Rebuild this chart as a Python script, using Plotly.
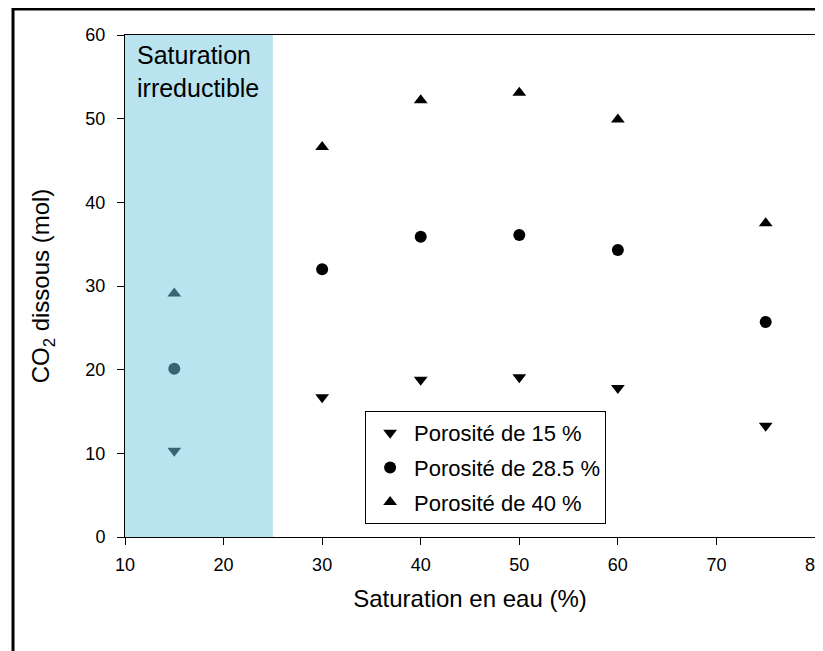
import plotly.graph_objects as go

saturation = [15, 30, 40, 50, 60, 75]
poro_15 = [10.3, 16.7, 18.8, 19.1, 17.8, 13.3]
poro_285 = [20.1, 32.0, 35.9, 36.1, 34.3, 25.7]
poro_40 = [29.1, 46.6, 52.2, 53.1, 49.9, 37.5]
names = ["Porosité de 15 %", "Porosité de 28.5 %", "Porosité de 40 %"]
x_ticks = [10, 20, 30, 40, 50, 60, 70, 80]
y_ticks = [0, 10, 20, 30, 40, 50, 60]
shade_range = [10, 25]

shade_col = "#b9e3ef"
in_shade_col = "#3a6474"

fig = go.Figure()
symbols = ["triangle-down", "circle", "triangle-up"]
for vals, nm, sym in zip([poro_15, poro_285, poro_40], names, symbols):
    inside = [shade_range[0] <= x <= shade_range[1] for x in saturation]
    xin = [x for x, f in zip(saturation, inside) if f]
    yin = [v for v, f in zip(vals, inside) if f]
    xout = [x for x, f in zip(saturation, inside) if not f]
    yout = [v for v, f in zip(vals, inside) if not f]
    fig.add_trace(go.Scatter(x=xout, y=yout, mode="markers", name=nm, legendgroup=nm,
                             marker=dict(symbol=sym, size=12, color="black", line=dict(width=0))))
    fig.add_trace(go.Scatter(x=xin, y=yin, mode="markers", name=nm, legendgroup=nm, showlegend=False,
                             marker=dict(symbol=sym, size=12, color=in_shade_col, line=dict(width=0))))

fig.add_shape(type="rect", xref="x", yref="y", x0=shade_range[0], x1=shade_range[1],
              y0=0, y1=60, fillcolor=shade_col, line=dict(width=0), layer="below")

# outer frame
fig.add_shape(type="rect", xref="paper", yref="paper", x0=-0.1623, x1=1.03, y0=-0.3, y1=1.0518,
              line=dict(color="black", width=3), fillcolor="rgba(0,0,0,0)")

fig.add_annotation(x=shade_range[0], y=60, xref="x", yref="y", xanchor="left", yanchor="top",
                   xshift=10, yshift=-4, align="left", showarrow=False,
                   text="Saturation<br>irreductible",
                   font=dict(family="Liberation Sans, Arial", size=25, color="black"))

tickfont = dict(family="Liberation Sans, Arial", size=18, color="black")
fig.update_xaxes(range=[10, 80], tickvals=x_ticks, showgrid=False, zeroline=False,
                 showline=True, linecolor="black", linewidth=1, mirror=True,
                 ticks="outside", ticklen=7, tickcolor="black", tickfont=tickfont,
                 ticklabelstandoff=4, ticklabeloverflow="allow",
                 title=dict(text="Saturation en eau (%)", standoff=16,
                            font=dict(family="Liberation Sans, Arial", size=24, color="black")))
fig.update_yaxes(range=[0, 60], tickvals=y_ticks, showgrid=False, zeroline=False,
                 showline=True, linecolor="black", linewidth=1, mirror=True,
                 ticks="outside", ticklen=7, tickcolor="black", tickfont=tickfont,
                 ticklabelstandoff=8,
                 title=dict(text="CO<sub>2</sub> dissous (mol)", standoff=28,
                            font=dict(family="Liberation Sans, Arial", size=24, color="black")))

fig.update_layout(
    width=815, height=643,
    margin=dict(l=117, r=8, t=27, b=114, autoexpand=False),
    plot_bgcolor="white", paper_bgcolor="white",
    showlegend=True,
    legend=dict(x=0.348, y=0.251, xanchor="left", yanchor="top",
                bordercolor="black", borderwidth=1, bgcolor="white",
                font=dict(family="Liberation Sans, Arial", size=22, color="black"),
                itemwidth=38, tracegroupgap=3),
)
fig.write_html("out.html")
